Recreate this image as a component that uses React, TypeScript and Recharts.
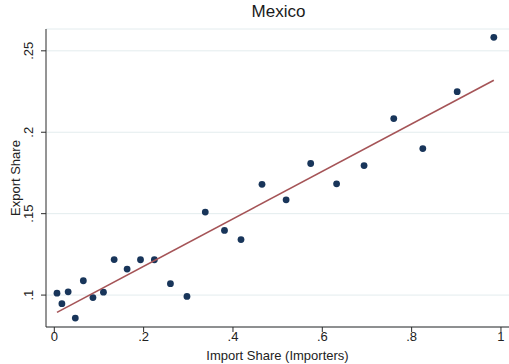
import React from "react";
import { CartesianGrid, Scatter, ScatterChart, XAxis, YAxis } from "recharts";

const importShare = [
  0.006, 0.017, 0.031, 0.047, 0.065, 0.0865, 0.11, 0.134, 0.163, 0.193, 0.224, 0.26, 0.297,
  0.338, 0.381, 0.418, 0.465, 0.519, 0.574, 0.632, 0.6935, 0.76, 0.825, 0.902, 0.984,
];
const exportShare = [
  0.1012, 0.0947, 0.102, 0.0859, 0.1088, 0.0985, 0.1018, 0.1218, 0.116, 0.1217, 0.1217, 0.107, 0.0992,
  0.151, 0.1397, 0.1341, 0.168, 0.1585, 0.1808, 0.1683, 0.1795, 0.2084, 0.19, 0.2249, 0.2583,
];
const fitX = [0.006, 0.984];
const fitY = [0.0894, 0.2319];

const xTicks = [0, 0.2, 0.4, 0.6, 0.8, 1];
const xTickLabels = ["0", ".2", ".4", ".6", ".8", "1"];
const yTicks = [0.1, 0.15, 0.2, 0.25];
const yTickLabels = [".1", ".15", ".2", ".25"];

const points = importShare.map((x, i) => ({ x, y: exportShare[i] }));
const fitLine = fitX.map((x, i) => ({ x, y: fitY[i] }));

const FONT = "'Liberation Sans', Arial, sans-serif";
const AXIS = "#2b2b2b";

const labelFor = (ticks: number[], labels: string[], v: number) => {
  const i = ticks.findIndex((t) => Math.abs(t - v) < 1e-9);
  return i >= 0 ? labels[i] : String(v);
};

const YTick = (props: any) => {
  const { x, y, payload } = props;
  return (
    <text
      x={x - 6}
      y={y}
      transform={`rotate(-90 ${x - 6} ${y})`}
      textAnchor="middle"
      fontSize={13}
      fill="#222"
      fontFamily={FONT}
    >
      {labelFor(yTicks, yTickLabels, payload.value)}
    </text>
  );
};

const App = () => {
  return (
    <div style={{ position: "absolute", left: 0, top: 0, width: 509, height: 364, background: "#fff" }}>
      <div
        style={{
          position: "absolute",
          left: 0,
          top: 2,
          width: 557,
          textAlign: "center",
          fontFamily: FONT,
          fontSize: 17,
          color: "#1a1a1a",
        }}
      >
        Mexico
      </div>
      <ScatterChart width={509} height={364} margin={{ top: 29, right: 0, bottom: 0, left: 0 }}>
        <CartesianGrid horizontal vertical={false} stroke="#e3ecee" strokeWidth={1} />
        <XAxis
          type="number"
          dataKey="x"
          domain={[-0.0186, 1.018]}
          allowDataOverflow
          ticks={xTicks}
          tickFormatter={(v: number) => labelFor(xTicks, xTickLabels, v)}
          height={37}
          stroke={AXIS}
          tickSize={5}
          tick={{ fontSize: 13, fill: "#222", fontFamily: FONT, dy: -2 }}
          label={{
            value: "Import Share (Importers)",
            position: "insideBottom",
            offset: 4,
            fontSize: 13,
            fill: "#222",
            fontFamily: FONT,
          }}
        />
        <YAxis
          type="number"
          dataKey="y"
          domain={[0.0804, 0.2634]}
          allowDataOverflow
          ticks={yTicks}
          width={46}
          stroke={AXIS}
          tickSize={5}
          tick={<YTick />}
          label={{
            value: "Export Share",
            angle: -90,
            position: "insideLeft",
            offset: 15,
            dy: 38,
            fontSize: 13,
            fill: "#222",
            fontFamily: FONT,
          }}
        />
        <Scatter data={points} fill="#18355a" isAnimationActive={false} shape={(p: any) => (
          <circle cx={p.cx} cy={p.cy} r={3.4} fill="#18355a" />
        )} />
        <Scatter
          data={fitLine}
          isAnimationActive={false}
          line={{ stroke: "#a55457", strokeWidth: 1.6 }}
          lineType="joint"
          shape={() => <g />}
        />
      </ScatterChart>
    </div>
  );
};

export default App;
